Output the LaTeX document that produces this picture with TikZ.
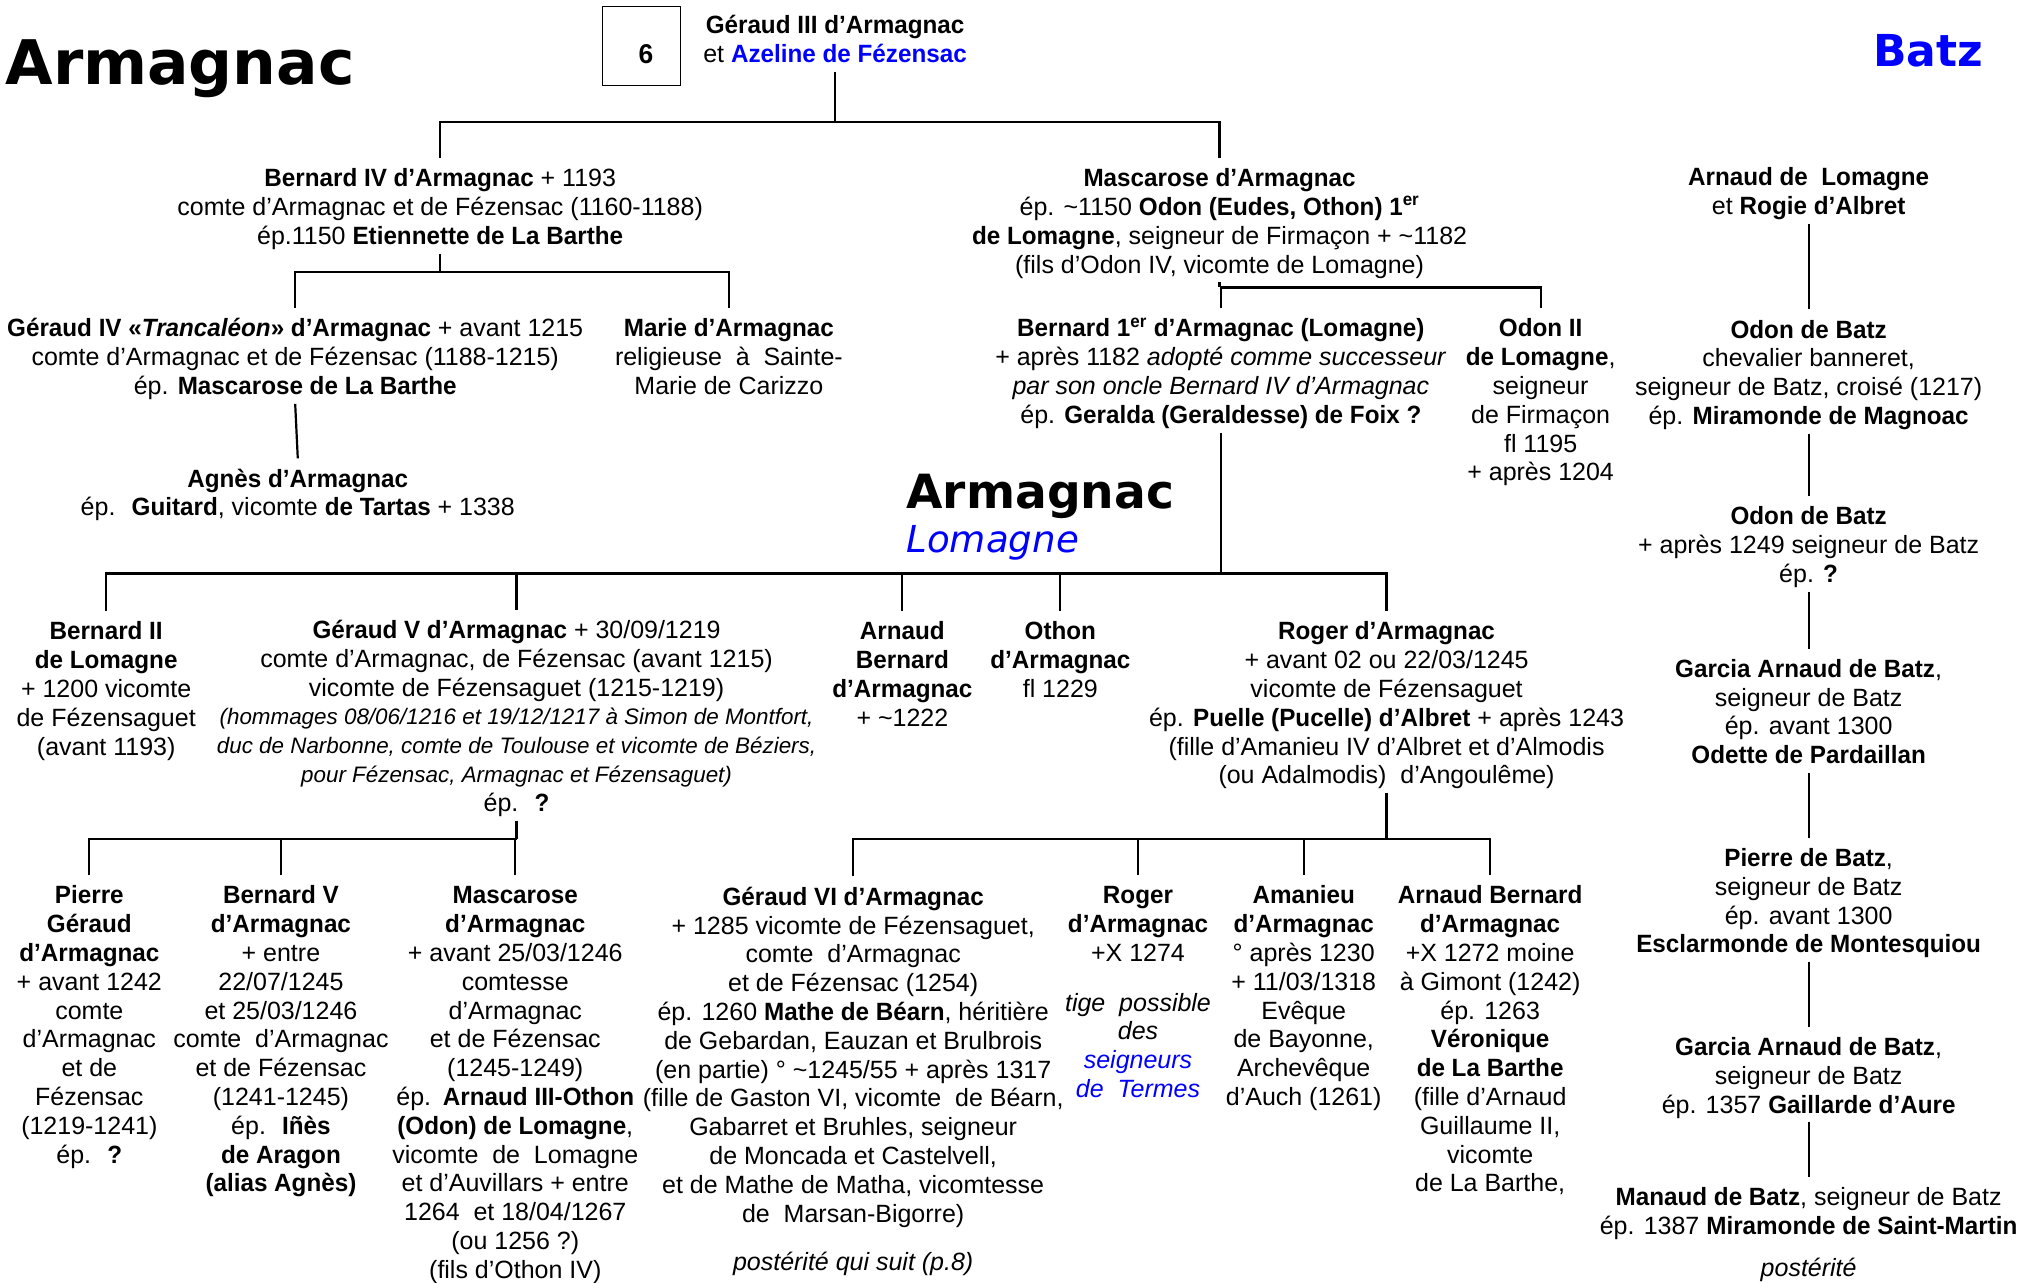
\documentclass[tikz,border=0pt]{standalone}
\usepackage{fontspec}
\setmainfont{Liberation Sans}[BoldFeatures={FakeStretch=0.97},BoldItalicFeatures={FakeStretch=0.97}]
\newfontfamily\titlefont{DejaVu Sans}
\definecolor{lnk}{RGB}{0,0,255}
\newcommand\sm{\fontsize{17.3}{21}\selectfont\itshape}
\newcommand\tstr{\rule{0pt}{22pt}}
\newcommand\bstr{\rule[-7pt]{0pt}{7pt}}
\tikzset{
  person/.style={anchor=north, align=center, inner xsep=0pt, inner ysep=0pt,
    font=\fontsize{19.3}{22.25}\selectfont},
  link/.style={line width=1.7pt},
  titl/.style={inner sep=0pt},
}
\begin{document}
\begin{tikzpicture}[x=1pt,y=-1pt]
\useasboundingbox (0,0) rectangle (1568,991);

% titles
\node[titl, anchor=base west, font=\titlefont\bfseries\fontsize{47.5}{50}\selectfont] (t1) at (4,65) {Armagnac};
\node[titl, anchor=base west, font=\titlefont\bfseries\fontsize{36.4}{40}\selectfont] (t2) at (700,393) {Armagnac};
\node[titl, anchor=base west, font=\titlefont\itshape\fontsize{28.7}{32}\selectfont, text=lnk] (t3) at (700,427) {Lomagne};
\node[titl, anchor=base east, font=\titlefont\bfseries\fontsize{34}{38}\selectfont, text=lnk] (t4) at (1532,51) {Batz};

% box 6
\node[draw, line width=0.8pt, minimum width=60pt, minimum height=61pt, inner sep=0pt] (box6) at (495.5,35.5) {};
\node[titl, font=\fontsize{21}{22}\selectfont\bfseries] (six) at (499,42) {6};

% generation 1
\node[person] (geraud3) at (645,4) {\tstr\textbf{Géraud III d’Armagnac}\\et \textcolor{lnk}{\textbf{Azeline de Fézensac}}\bstr};

% generation 2
\node[person] (bernard4) at (340,122) {\tstr\textbf{Bernard IV d’Armagnac} + 1193\\comte d’Armagnac et de Fézensac (1160-1188)\\ép.1150 \textbf{Etiennette de La Barthe}\bstr};
\node[person] (mascarose1) at (942,122) {\tstr\textbf{Mascarose d’Armagnac}\\ép. \textasciitilde1150 \textbf{Odon (Eudes, Othon) 1\textsuperscript{er}}\\\textbf{de Lomagne}, seigneur de Firmaçon + \textasciitilde1182\\(fils d’Odon IV, vicomte de Lomagne)\bstr};

% generation 3
\node[person] (geraud4) at (228,238) {\tstr\textbf{Géraud IV «\textit{Trancaléon}» d’Armagnac} + avant 1215\\comte d’Armagnac et de Fézensac (1188-1215)\\ép. \textbf{Mascarose de La Barthe}\bstr};
\node[person] (marie) at (563,238) {\tstr\textbf{Marie d’Armagnac}\\religieuse \ à \ Sainte-\\Marie de Carizzo\bstr};
\node[person] (bernard1) at (943,238) {\tstr\textbf{Bernard 1\textsuperscript{er} d’Armagnac (Lomagne)}\\+ après 1182 \textit{adopté comme successeur}\\\textit{par son oncle Bernard IV d’Armagnac}\\ép. \textbf{Geralda (Geraldesse) de Foix ?}\bstr};
\node[person] (odon2) at (1190,238) {\tstr\textbf{Odon II}\\\textbf{de Lomagne},\\seigneur\\de Firmaçon\\fl 1195\\+ après 1204\bstr};
\node[person] (agnes) at (230,354) {\tstr\textbf{Agnès d’Armagnac}\\ép. \ \textbf{Guitard}, vicomte \textbf{de Tartas} + 1338\bstr};

% Batz column
\node[person] (arnaudL) at (1397,121) {\tstr\textbf{Arnaud de \ Lomagne}\\et \textbf{Rogie d’Albret}\bstr};
\node[person] (odonB1) at (1397,239) {\tstr\textbf{Odon de Batz}\\chevalier banneret,\\seigneur de Batz, croisé (1217)\\ép. \textbf{Miramonde de Magnoac}\bstr};
\node[person] (odonB2) at (1397,383) {\tstr\textbf{Odon de Batz}\\+ après 1249 seigneur de Batz\\ép. \textbf{?}\bstr};
\node[person] (garcia1) at (1397,501) {\tstr\textbf{Garcia Arnaud de Batz},\\seigneur de Batz\\ép. avant 1300\\\textbf{Odette de Pardaillan}\bstr};
\node[person] (pierreB) at (1397,647) {\tstr\textbf{Pierre de Batz},\\seigneur de Batz\\ép. avant 1300\\\textbf{Esclarmonde de Montesquiou}\bstr};
\node[person] (garcia2) at (1397,793) {\tstr\textbf{Garcia Arnaud de Batz},\\seigneur de Batz\\ép. 1357 \textbf{Gaillarde d’Aure}\bstr};
\node[person] (manaud) at (1397,909) {\tstr\textbf{Manaud de Batz}, seigneur de Batz\\ép. 1387 \textbf{Miramonde de Saint-Martin}\bstr};
\node[titl, anchor=base, font=\fontsize{19.3}{22}\selectfont\itshape] (post2) at (1397,986) {postérité};

% generation 4
\node[person] (bernard2) at (82,472) {\tstr\textbf{Bernard II}\\\textbf{de Lomagne}\\+ 1200 vicomte\\de Fézensaguet\\(avant 1193)\bstr};
\node[person] (geraud5) at (399,471) {\tstr\textbf{Géraud V d’Armagnac} + 30/09/1219\\comte d’Armagnac, de Fézensac (avant 1215)\\vicomte de Fézensaguet (1215-1219)\\{\sm (hommages 08/06/1216 et 19/12/1217 à Simon de Montfort,}\\{\sm duc de Narbonne, comte de Toulouse et vicomte de Béziers,}\\{\sm pour Fézensac, Armagnac et Fézensaguet)}\\ép. \ \textbf{?}\bstr};
\node[person] (arnaudB) at (697,472) {\tstr\textbf{Arnaud}\\\textbf{Bernard}\\\textbf{d’Armagnac}\\+ \textasciitilde1222\bstr};
\node[person] (othon) at (819,472) {\tstr\textbf{Othon}\\\textbf{d’Armagnac}\\fl 1229\bstr};
\node[person] (roger1) at (1071,472) {\tstr\textbf{Roger d’Armagnac}\\+ avant 02 ou 22/03/1245\\vicomte de Fézensaguet\\ép. \textbf{Puelle (Pucelle) d’Albret} + après 1243\\(fille d’Amanieu IV d’Albret et d’Almodis\\(ou Adalmodis) \ d’Angoulême)\bstr};

% generation 5
\node[person] (pierreG) at (69,676) {\tstr\textbf{Pierre}\\\textbf{Géraud}\\\textbf{d’Armagnac}\\+ avant 1242\\comte\\d’Armagnac\\et de\\Fézensac\\(1219-1241)\\ép. \ \textbf{?}\bstr};
\node[person] (bernard5) at (217,676) {\tstr\textbf{Bernard V}\\\textbf{d’Armagnac}\\+ entre\\22/07/1245\\et 25/03/1246\\comte \ d’Armagnac\\et de Fézensac\\(1241-1245)\\ép. \ \textbf{Iñès}\\\textbf{de Aragon}\\\textbf{(alias Agnès)}\bstr};
\node[person] (mascarose2) at (398,676) {\tstr\textbf{Mascarose}\\\textbf{d’Armagnac}\\+ avant 25/03/1246\\comtesse\\d’Armagnac\\et de Fézensac\\(1245-1249)\\ép.\hspace{2pt} \textbf{Arnaud III-Othon}\\\textbf{(Odon) de Lomagne},\\vicomte \ de \ Lomagne\\et d’Auvillars + entre\\1264 \ et 18/04/1267\\(ou 1256 ?)\\(fils d’Othon IV)\bstr};
\node[person] (geraud6) at (659,677) {\tstr\textbf{Géraud VI d’Armagnac}\\+ 1285 vicomte de Fézensaguet,\\comte \ d’Armagnac\\et de Fézensac (1254)\\ép. 1260 \textbf{Mathe de Béarn}, héritière\\de Gebardan, Eauzan et Brulbrois\\(en partie) ° \textasciitilde1245/55 + après 1317\\(fille de Gaston VI, vicomte \ de Béarn,\\Gabarret et Bruhles, seigneur\\de Moncada et Castelvell,\\et de Mathe de Matha, vicomtesse\\de \ Marsan-Bigorre)\bstr};
\node[titl, anchor=base, font=\fontsize{19.3}{22}\selectfont\itshape] (post1) at (659,981) {postérité qui suit (p.8)};
\node[person] (roger2) at (879,676) {\tstr\textbf{Roger}\\\textbf{d’Armagnac}\\+X 1274\\[16pt]\textit{tige \ possible}\\\textit{des}\\\textcolor{lnk}{\textit{seigneurs}}\\\textcolor{lnk}{\textit{de \ Termes}}\bstr};
\node[person] (amanieu) at (1007,676) {\tstr\textbf{Amanieu}\\\textbf{d’Armagnac}\\° après 1230\\+ 11/03/1318\\Evêque\\de Bayonne,\\Archevêque\\d’Auch (1261)\bstr};
\node[person] (arnaudB2) at (1151,676) {\tstr\textbf{Arnaud Bernard}\\\textbf{d’Armagnac}\\+X 1272 moine\\à Gimont (1242)\\ép. 1263\\\textbf{Véronique}\\\textbf{de La Barthe}\\(fille d’Arnaud\\Guillaume II,\\vicomte\\de La Barthe,\bstr};

% bus coordinates
\coordinate (busA) at (0,94);
\coordinate (busB) at (0,210);
\coordinate (busC) at (0,222);
\coordinate (busD) at (0,443);
\coordinate (busE) at (0,648);
\coordinate (busF) at (0,648);

% connectors
\draw[link] (geraud3.south) -- (geraud3.south |- busA);
\draw[link] (bernard4.north) -- (bernard4.north |- busA) -- (mascarose1.north |- busA) -- (mascarose1.north);

\draw[link] (bernard4.south) -- (bernard4.south |- busB);
\draw[link] (geraud4.north) -- (geraud4.north |- busB) -- (marie.north |- busB) -- (marie.north);

\draw[link] (mascarose1.south) -- (mascarose1.south |- busC);
\draw[link] (bernard1.north) -- (bernard1.north |- busC) -- (odon2.north |- busC) -- (odon2.north);

\draw[link] (geraud4.south) -- (agnes.north);

\draw[link] (bernard1.south) -- (bernard1.south |- busD);
\draw[link] (bernard2.north) -- (bernard2.north |- busD) -- (roger1.north |- busD) -- (roger1.north);
\draw[link] (geraud5.north) -- (geraud5.north |- busD);
\draw[link] (arnaudB.north) -- (arnaudB.north |- busD);
\draw[link] (othon.north) -- (othon.north |- busD);

\draw[link] (geraud5.south) -- (geraud5.south |- busE);
\draw[link] (pierreG.north) -- (pierreG.north |- busE) -- (geraud5.south |- busE);
\draw[link] (mascarose2.north) -- (mascarose2.north |- busE);
\draw[link] (bernard5.north) -- (bernard5.north |- busE);

\draw[link] (roger1.south) -- (roger1.south |- busF);
\draw[link] (geraud6.north) -- (geraud6.north |- busF) -- (arnaudB2.north |- busF) -- (arnaudB2.north);
\draw[link] (roger2.north) -- (roger2.north |- busF);
\draw[link] (amanieu.north) -- (amanieu.north |- busF);

\draw[link] (arnaudL.south) -- (odonB1.north);
\draw[link] (odonB1.south) -- (odonB2.north);
\draw[link] (odonB2.south) -- (garcia1.north);
\draw[link] (garcia1.south) -- (pierreB.north);
\draw[link] (pierreB.south) -- (garcia2.north);
\draw[link] (garcia2.south) -- (manaud.north);
\end{tikzpicture}
\end{document}
